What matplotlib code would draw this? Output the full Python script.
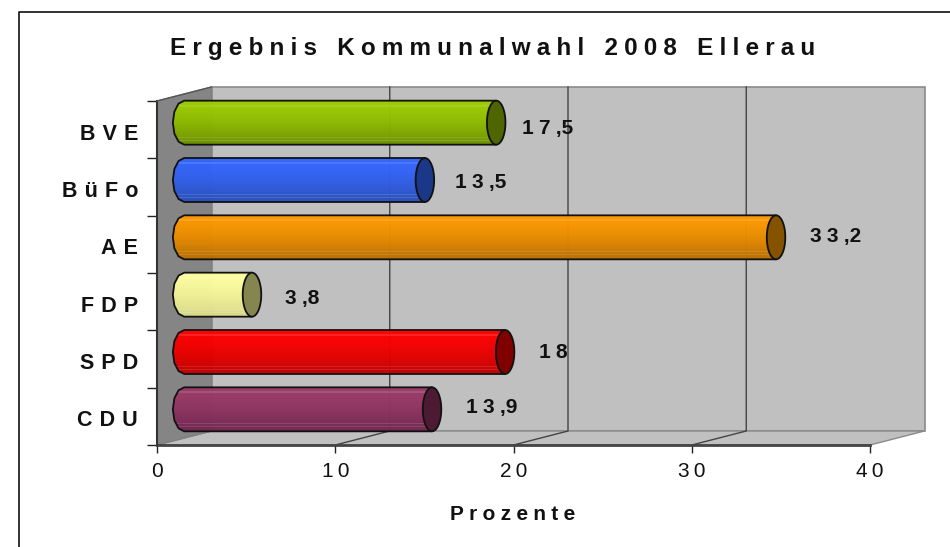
import numpy as np
import matplotlib
matplotlib.use("Agg")
import matplotlib.pyplot as plt
from matplotlib.colors import to_rgb
from matplotlib.patches import Polygon, PathPatch
from matplotlib.path import Path

parties = ["CDU", "SPD", "FDP", "AE", "BüFo", "BVE"]
values = [13.9, 18, 3.8, 33.2, 13.5, 17.5]
value_labels = ["13,9", "18", "3,8", "33,2", "13,5", "17,5"]
top_colors = ["#9b3a68", "#ff0000", "#ffffa0", "#ff9900", "#3366ff", "#9ccc00"]
bottom_colors = ["#702650", "#c00000", "#d8d888", "#b86e00", "#2a4fb8", "#6c8f00"]
cap_colors = ["#4d1a33", "#800000", "#85854f", "#855300", "#1a3788", "#4f6600"]
x_ticks = [0, 10, 20, 30, 40]

title = "Ergebnis Kommunalwahl 2008 Ellerau"
x_title = "Prozente"

# labels in the source do not sit on one regular offset (pixels from bar end / bar centre)
label_gap_x = [34, 34, 33, 34, 30, 26]
label_drop_y = [4, 6, 9, 5, 8, 11]

WIDE = "\u2004"
MID = "\u2005"
THIN = "\u2009"


def spaced(s, gap=MID):
    # the original has wide letter spacing, comma sits tight on the next digit
    return gap.join(s).replace(gap + " " + gap, "   ").replace("," + gap, ",")


W, H = 950, 547
fig = plt.figure(figsize=(W / 100, H / 100), dpi=100)
plt.rcParams["font.family"] = ["Liberation Sans", "DejaVu Sans"]

# whole chart frame only shows on the left and on top
fig.add_artist(plt.Line2D([18.5 / W, 18.5 / W, 1], [0, 1 - 11.5 / H, 1 - 11.5 / H], color="#111111", lw=1.2))

ax = fig.add_axes([157 / W, (H - 445) / H, 713 / W, 344 / H])
ax.set_xlim(0, 40)
ax.set_ylim(0, 6)
ax.patch.set_visible(False)
for s in ax.spines.values():
    s.set_visible(False)

# depth of the fake 3d box, in data units
dx = 54.5 / (713 / 40)
dy = 14 / (344 / 6)

wall = Polygon([(dx, dy), (40 + dx, dy), (40 + dx, 6 + dy), (dx, 6 + dy)], fc="#c0c0c0", ec="#8a8a8a", lw=1.2, clip_on=False, zorder=1)
floor = Polygon([(0, 0), (40, 0), (40 + dx, dy), (dx, dy)], fc="#c0c0c0", ec="#8a8a8a", lw=1, clip_on=False, zorder=1)
side = Polygon([(0, 0), (0, 6), (dx, 6 + dy), (dx, dy)], fc="#858585", ec="#808080", lw=1, clip_on=False, zorder=1.1)
ax.add_patch(wall)
ax.add_patch(floor)
ax.add_patch(side)

for t in x_ticks[1:-1]:
    ax.plot([t, t + dx, t + dx], [0, dy, 6 + dy], color="#444444", lw=1, clip_on=False, zorder=1.5)

ax.plot([0, 40], [0, 0], color="#444444", lw=2, clip_on=False, zorder=2)
ax.plot([0, 0], [0, 6], color="#333333", lw=1.5, clip_on=False, zorder=2)
ax.plot([0, dx], [6, 6 + dy], color="#555555", lw=1, clip_on=False, zorder=2)

half_h = 22 / (344 / 6)
y_shift = dy / 2
t_par = np.linspace(0, 2 * np.pi, 41)

for i, (val, label, c1, c2, c3) in enumerate(zip(values, value_labels, top_colors, bottom_colors, cap_colors)):
    y0 = i + 0.5 + y_shift
    x0 = dx / 2
    x1 = val + dx / 2
    rx_l = 0.64
    rx_r = 0.52

    # body outline: blunt left end, straight to the end cap
    left = np.linspace(np.pi / 2, 3 * np.pi / 2, 7)
    xs = list(x0 + rx_l * np.cos(left)) + [x1, x1]
    ys = list(y0 + half_h * np.sin(left)) + [y0 - half_h, y0 + half_h]
    body_path = Path(np.column_stack([xs + xs[:1], ys + ys[:1]]), closed=True)

    # vertical shading with the pale stripes of the source
    n = 44
    frac = np.linspace(0, 1, n)[:, None] ** 1.6
    rows = (1 - frac) * np.array(to_rgb(c1)) + frac * np.array(to_rgb(c2))
    for r in (4, 5, 36, 39):
        rows[r] = rows[r] + (1 - rows[r]) * 0.12
    img = ax.imshow(rows[:, None, :], extent=[x0 - rx_l, x1, y0 - half_h, y0 + half_h], aspect="auto", origin="upper", zorder=3, alpha=0.98, clip_on=True)
    patch = PathPatch(body_path, transform=ax.transData, fc="none", ec="#111111", lw=1.3, joinstyle="round", zorder=3.1, clip_on=False)
    ax.add_patch(patch)
    img.set_clip_path(patch)

    cap_x = x1 + rx_r * np.cos(t_par)
    cap_y = y0 + half_h * np.sin(t_par)
    ax.fill(cap_x, cap_y, fc=c3, ec="#111111", lw=1.3, zorder=3.2, clip_on=False)

    ax.annotate(spaced(label), (x1, y0), xytext=(label_gap_x[i] * 0.72, -label_drop_y[i] * 0.72),
                textcoords="offset points", fontsize=15, fontweight="bold", color="#111111",
                ha="left", va="baseline", zorder=4, annotation_clip=False)

ax.set_xlim(0, 40)
ax.set_ylim(0, 6)

ax.set_xticks(x_ticks)
ax.set_xticklabels([spaced(str(t), THIN) for t in x_ticks], fontsize=15, color="#111111")
ax.set_yticks(range(7))
ax.set_yticklabels([])
ax.tick_params(axis="x", length=6, width=1, pad=6, color="#222222")
ax.tick_params(axis="y", length=7, width=1, color="#222222")

for i, p in enumerate(parties):
    ax.annotate(spaced(p, WIDE), (0, i + 0.5), xytext=(-19 * 0.72, -10 * 0.72), textcoords="offset points",
                fontsize=15.5, fontweight="bold", color="#111111", ha="right", va="baseline", annotation_clip=False)

fig.text(492.5 / W, 1 - 55 / H, spaced(title), fontsize=17.5, fontweight="bold", color="#111111", ha="center", va="baseline")
fig.text(513 / W, 1 - 520 / H, spaced(x_title), fontsize=15, fontweight="bold", color="#111111", ha="center", va="baseline")

fig.savefig("out.png", dpi=100)
